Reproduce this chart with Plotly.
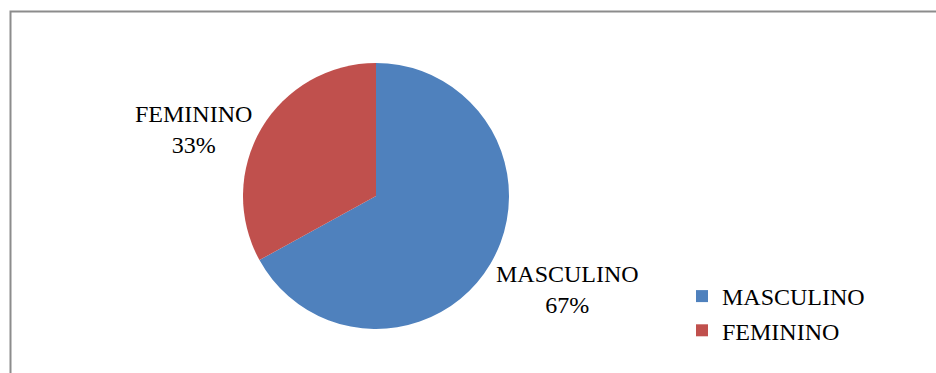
import plotly.graph_objects as go

# Respondents by sex (percent)
categories = ["MASCULINO", "FEMININO"]
values = [67, 33]
colors = ["#4F81BD", "#C0504D"]

W, H = 936, 373
FONT = "Liberation Serif"
FONT_SIZE = 24

fig = go.Figure(
    go.Pie(
        labels=categories,
        values=values,
        sort=False,
        direction="clockwise",
        rotation=0,
        textinfo="none",
        hoverinfo="label+percent",
        marker=dict(colors=colors, line=dict(width=0)),
        domain=dict(x=[243 / W, 509 / W], y=[44 / H, 310 / H]),
    )
)

# Outside data labels: category name and share
total = sum(values)
label_pos = {"MASCULINO": (567, 289), "FEMININO": (193, 129)}
for cat, val in zip(categories, values):
    px, py = label_pos[cat]
    fig.add_annotation(
        x=px / W, y=1 - py / H, xref="paper", yref="paper",
        text=f"{cat}<br>{round(100 * val / total)}%",
        showarrow=False, align="center",
        xanchor="center", yanchor="middle",
        font=dict(family=FONT, size=FONT_SIZE, color="#000000"),
    )

# Chart-area frame
fig.add_shape(
    type="rect", xref="paper", yref="paper",
    x0=10.5 / W, x1=1.02, y0=-0.05, y1=1 - 11.5 / H,
    line=dict(color="#8C8C8C", width=2), fillcolor="rgba(0,0,0,0)",
)

fig.update_layout(
    width=W, height=H,
    margin=dict(l=0, r=0, t=0, b=0),
    paper_bgcolor="white", plot_bgcolor="white",
    showlegend=True,
    legend=dict(
        x=682 / W, y=1 - 274 / H, xanchor="left", yanchor="top",
        font=dict(family=FONT, size=FONT_SIZE, color="#000000"),
        tracegroupgap=0, itemsizing="constant",
        bgcolor="rgba(0,0,0,0)",
    ),
)

fig.write_html("out.html")
